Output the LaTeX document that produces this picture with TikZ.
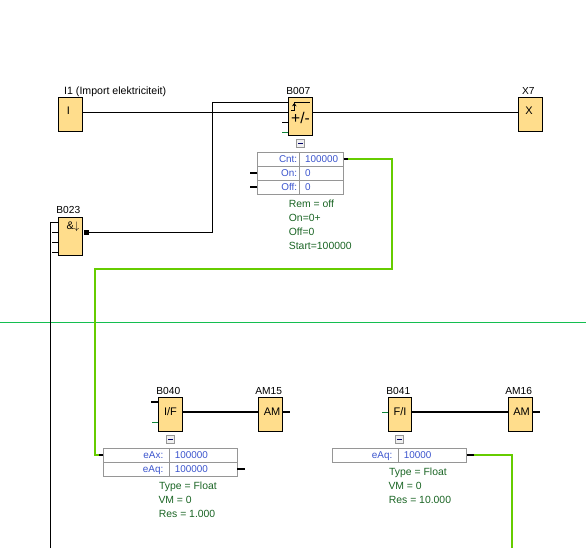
\documentclass[tikz,border=0pt]{standalone}
\usepackage{fontspec}
\setmainfont{Liberation Sans}
\usetikzlibrary{arrows.meta, positioning, calc}
\definecolor{blockfill}{RGB}{255,221,140}
\definecolor{cellgray}{RGB}{150,150,150}
\definecolor{valueblue}{RGB}{60,85,205}
\definecolor{paramgreen}{RGB}{25,100,35}
\definecolor{linkgreen}{RGB}{102,204,0}
\definecolor{railgreen}{RGB}{20,190,80}
\tikzset{
    block/.style={rectangle, draw=black, fill=blockfill, line width=1pt, minimum width=24.4pt, inner sep=0pt, outer sep=0pt, anchor=north west},
    blocksym/.style={font=\fontsize{11}{11}\selectfont, inner sep=0pt},
    blockname/.style={font=\fontsize{10.2}{11}\selectfont, inner sep=0pt, anchor=base},
    cellkey/.style={rectangle, draw=cellgray, line width=1pt, minimum height=14pt, text height=7.2pt, text depth=1.8pt, inner ysep=0pt, inner xsep=2.5pt, outer sep=0pt, anchor=north west, align=right, font=\fontsize{9.9}{10}\selectfont, text=valueblue},
    cellval/.style={cellkey, align=left, inner xsep=5.5pt},
    param/.style={font=\fontsize{10.4}{11}\selectfont, text=paramgreen, inner sep=0pt, anchor=base west},
    foldbtn/.style={rectangle, draw=cellgray, fill=black!6, line width=1pt, minimum size=8pt, inner sep=0pt, path picture={
        \draw[blue!40!black, line width=1pt] ([xshift=-2.5pt]path picture bounding box.center) -- ([xshift=2.5pt]path picture bounding box.center);}},
    wire/.style={black, line width=1pt},
    pinthick/.style={black, line width=2pt},
    pingreen/.style={railgreen!70!black, line width=1pt},
    linkbus/.style={linkgreen, line width=2.3pt},
}
\begin{document}
\begin{tikzpicture}[x=1pt, y=-1pt]
\useasboundingbox (0,0) rectangle (586,549);

% Rail between the two sections
\coordinate (rail-l) at (0,322.5);
\coordinate (rail-r) at (586,322.5);
\draw[railgreen, line width=1pt] (rail-l) -- (rail-r);

% Input and output blocks
\node[block, minimum height=34.3pt] (i1) at (58.3,97.3) {};
\node[blocksym] (i1-sym) at ([xshift=-2pt,yshift=-13.5pt]i1.north) {I};
\node[blockname, anchor=base west, font=\fontsize{10.6}{11}\selectfont] (i1-name) at (64,94.3) {I1 (Import elektriciteit)};

\node[block, minimum height=34.3pt] (x7) at (518.3,97.3) {};
\node[blocksym] (x7-sym) at ([xshift=-1.5pt,yshift=-13.5pt]x7.north) {X};
\node[blockname] (x7-name) at (528.3,94.3) {X7};

% Gate B023
\node[block, minimum height=38pt] (b023) at (58.3,217.3) {};
\node[blocksym] (b023-sym) at ([xshift=2.5pt,yshift=-9.5pt]b023.north) {\&$\downarrow$};
\node[blockname] (b023-name) at (68.3,213.3) {B023};
\node[fill=black, minimum size=5pt, inner sep=0pt, outer sep=0pt] (b023-out) at (86.5,232.5) {};

% Counter B007
\node[block, minimum height=38.4pt] (b007) at (288.3,97.3) {};
\node[blockname] (b007-name) at (298.3,94.3) {B007};
\node[blocksym, font=\fontsize{15.5}{16}\selectfont] (b007-sym) at ([yshift=-20.4pt]b007.north) {+/-};
\draw[wire] ([xshift=-6.5pt,yshift=-5pt]b007.north) -- ([xshift=9.8pt,yshift=-5pt]b007.north);
\draw[wire, -{Stealth[length=3.5pt, width=4.5pt]}] ([xshift=-9.5pt,yshift=-12.7pt]b007.north) -- ([xshift=-6.2pt,yshift=-12.7pt]b007.north) -- ([xshift=-6.2pt,yshift=-5.5pt]b007.north);
\node[foldbtn] (b007-fold) at (300.7,143.5) {};

\node[cellkey, text width=37.4pt] (cnt-key) at (257.3,152.3) {Cnt:};
\node[cellval, text width=32.8pt] (cnt-val) at (cnt-key.north east) {100000};
\node[cellkey, text width=37.4pt] (on-key) at (cnt-key.south west) {On:};
\node[cellval, text width=32.8pt] (on-val) at (on-key.north east) {0};
\node[cellkey, text width=37.4pt] (off-key) at (on-key.south west) {Off:};
\node[cellval, text width=32.8pt] (off-val) at (off-key.north east) {0};

\node[param] (b007-rem) at (288.7,207.3) {Rem = off};
\node[param] (b007-on) at (288.7,221.3) {On=0+};
\node[param] (b007-off) at (288.7,235.3) {Off=0};
\node[param] (b007-start) at (288.7,249.3) {Start=100000};

% Converter B040 and AM15
\node[block, minimum height=34.3pt] (b040) at (158.3,397.3) {};
\node[blocksym] (b040-sym) at ([yshift=-14.5pt]b040.north) {I/F};
\node[blockname] (b040-name) at (168.3,394) {B040};
\node[block, minimum height=34.3pt] (am15) at (258.3,397.3) {};
\node[blocksym] (am15-sym) at ([xshift=1.5pt,yshift=-14.5pt]am15.north) {AM};
\node[blockname] (am15-name) at (268.7,394) {AM15};
\node[foldbtn] (b040-fold) at (170.7,439.5) {};

\node[cellkey, inner xsep=6pt, text width=54pt] (b040-ax-key) at (103.3,448.3) {eAx:};
\node[cellval, text width=57pt] (b040-ax-val) at (b040-ax-key.north east) {100000};
\node[cellkey, inner xsep=6pt, text width=54pt] (b040-aq-key) at (b040-ax-key.south west) {eAq:};
\node[cellval, text width=57pt] (b040-aq-val) at (b040-aq-key.north east) {100000};

\node[param] (b040-type) at (159,489) {Type = Float};
\node[param] (b040-vm) at (158.3,503) {VM = 0};
\node[param] (b040-res) at (158.7,517) {Res = 1.000};

% Converter B041 and AM16
\node[block, minimum height=34.3pt, minimum width=23.4pt] (b041) at (388.3,397.3) {};
\node[blocksym] (b041-sym) at ([yshift=-14.5pt]b041.north) {F/I};
\node[blockname] (b041-name) at (398.3,394) {B041};
\node[block, minimum height=34.3pt] (am16) at (508.3,397.3) {};
\node[blocksym] (am16-sym) at ([xshift=1pt,yshift=-14.5pt]am16.north) {AM};
\node[blockname] (am16-name) at (518.7,394) {AM16};
\node[foldbtn] (b041-fold) at (399.7,439.5) {};

\node[cellkey, inner xsep=6pt, text width=54pt] (b041-aq-key) at (332.3,448.3) {eAq:};
\node[cellval, text width=57.4pt] (b041-aq-val) at (b041-aq-key.north east) {10000};

\node[param] (b041-type) at (389,475.5) {Type = Float};
\node[param] (b041-vm) at (388.3,489.5) {VM = 0};
\node[param] (b041-res) at (388.7,503.5) {Res = 10.000};

% Free ends and turns
\coordinate (bus-bottom) at (50.5,548);
\coordinate (bus-top) at (50.5,222.3);
\coordinate (feed-turn) at (212.5,102.5);
\coordinate (link-a) at (392.3,159.3);
\coordinate (link-b) at (392.3,269);
\coordinate (link-c) at (94.7,269);
\coordinate (link-d) at (94.7,455.3);
\coordinate (link-f) at (512,548);

% Wires
\draw[wire] ([yshift=-15.2pt]i1.north east) -- ([yshift=-15.2pt]b007.north west);
\draw[wire] (b023-out.east) -| (feed-turn) -- (feed-turn -| b007.west);
\draw[wire] ([yshift=-15.2pt]b007.north east) -- ([yshift=-15.2pt]x7.north west);
\draw[wire] (bus-bottom) -- (bus-top) -- (bus-top -| b023.west);
\draw[wire] ([yshift=-14.7pt]b023.north west) -- ++(-6,0);
\draw[wire] ([yshift=-24.7pt]b023.north west) -- ++(-6,0);
\draw[wire] ([yshift=-34.7pt]b023.north west) -- ++(-6,0);
\draw[wire] ([yshift=-25.2pt]b007.north west) -- ++(-6,0);
\draw[pingreen] ([yshift=-35pt]b007.north west) -- ++(-6,0);

% Counter pins and link to B040
\draw[pinthick] (on-key.west) -- ++(-7,0);
\draw[pinthick] (off-key.west) -- ++(-7,0);
\draw[linkbus, line join=miter] (cnt-val.east) -- (link-a) -- (link-b) -- (link-c) -- (link-d) -- (b040-ax-key.west);
\draw[pinthick] (cnt-val.east) -- ++(4.8,0);
\draw[pinthick] (b040-ax-key.west) -- ++(-4.5,0);

% Lower section pins
\draw[pinthick] ([yshift=-4.9pt]b040.north west) -- ++(-7,0);
\draw[pingreen] ([yshift=-24.8pt]b040.north west) -- ++(-6,0);
\draw[pinthick] ([yshift=-14.9pt]b040.north east) -- ([yshift=-14.9pt]am15.north west);
\draw[pinthick] ([yshift=-14.9pt]am15.north east) -- ++(7,0);
\draw[pinthick] (b040-aq-val.east) -- ++(7.5,0);
\draw[pingreen] ([yshift=-14.9pt]b041.north west) -- ++(-6,0);
\draw[pinthick] ([yshift=-14.9pt]b041.north east) -- ([yshift=-14.9pt]am16.north west);
\draw[pinthick] ([yshift=-14.9pt]am16.north east) -- ++(7,0);
\draw[linkbus] (b041-aq-val.east) -| (link-f);
\draw[pinthick] (b041-aq-val.east) -- ++(7.5,0);

\end{tikzpicture}
\end{document}
